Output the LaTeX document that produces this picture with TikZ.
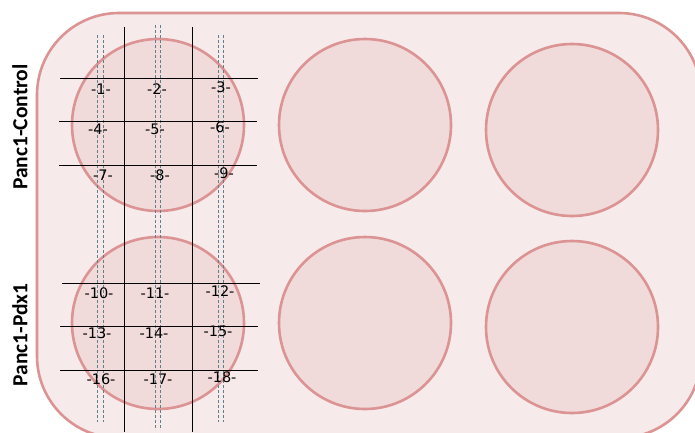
\documentclass[tikz,border=0pt]{standalone}
\usepackage{fontspec}
\setmainfont{DejaVu Sans}
\newfontfamily\sidefont{Carlito}
\usetikzlibrary{positioning, calc}
\definecolor{platefill}{HTML}{F7EAEA}
\definecolor{wellfill}{HTML}{F0DADA}
\definecolor{rimred}{HTML}{DB9393}
\definecolor{cutblue}{HTML}{5F7F8C}
\tikzset{
  plate/.style={draw=rimred, fill=platefill, line width=2.6pt, rounded corners=82pt},
  well/.style={circle, draw=rimred, fill=wellfill, line width=2.6pt,
               minimum size=172pt, inner sep=0pt},
  grid/.style={black, line width=1pt},
  cut/.style={cutblue, dashed, line width=0.8pt, dash pattern=on 3pt off 2pt},
  num/.style={font=\fontsize{14.5}{16}\selectfont, inner sep=0pt},
  side/.style={rotate=90, font=\sidefont\bfseries\fontsize{21.5}{24}\selectfont}
}
\begin{document}
\begin{tikzpicture}[x=1pt, y=-1pt]
  \useasboundingbox (0,0) rectangle (695,432);
  \begin{scope}
    \clip (0,0) rectangle (695,432);
    \draw[plate] (37,13) rectangle (701,438);
  \end{scope}

  % wells
  \node[well] (w11) at (158,125) {};
  \node[well] (w12) at (365,125) {};
  \node[well] (w13) at (572,130) {};
  \node[well] (w21) at (158,323) {};
  \node[well] (w22) at (365,323) {};
  \node[well] (w23) at (572,327) {};

  % cutting lines
  \foreach \x in {97.5, 103, 218, 223.5}
    \draw[cut] (\x,35) -- (\x,422);
  \foreach \x in {155.5, 160.5}
    \draw[cut] (\x,25) -- (\x,430);
  \foreach \x in {124, 192}
    \draw[grid] (\x,27) -- (\x,432);
  \draw[grid] (60,78) -- (258,78);
  \draw[grid] (59,121) -- (257,121);
  \draw[grid] (59,165) -- (257,165);
  \draw[grid] (62,283) -- (260,283);
  \draw[grid] (60,326) -- (258,326);
  \draw[grid] (60,370) -- (258,370);

  % piece numbers
  \node[num] (p1) at (101,89) {-1-};
  \node[num] (p2) at (157,89) {-2-};
  \node[num] (p3) at (221,87) {-3-};
  \node[num] (p4) at (98,129) {-4-};
  \node[num] (p5) at (155,129) {-5-};
  \node[num] (p6) at (220,127) {-6-};
  \node[num] (p7) at (103,175) {-7-};
  \node[num] (p8) at (160,175) {-8-};
  \node[num] (p9) at (224,173) {-9-};
  \node[num] (p10) at (99,293) {-10-};
  \node[num] (p11) at (155,293) {-11-};
  \node[num] (p12) at (220,291) {-12-};
  \node[num] (p13) at (97,333) {-13-};
  \node[num] (p14) at (154,333) {-14-};
  \node[num] (p15) at (218,331) {-15-};
  \node[num] (p16) at (101,379) {-16-};
  \node[num] (p17) at (158,379) {-17-};
  \node[num] (p18) at (222,377) {-18-};

  % row labels
  \node[side] (ctrl) at (20,127) {Panc1-Control};
  \node[side] (pdx) at (20,335) {Panc1-Pdx1};
\end{tikzpicture}
\end{document}
